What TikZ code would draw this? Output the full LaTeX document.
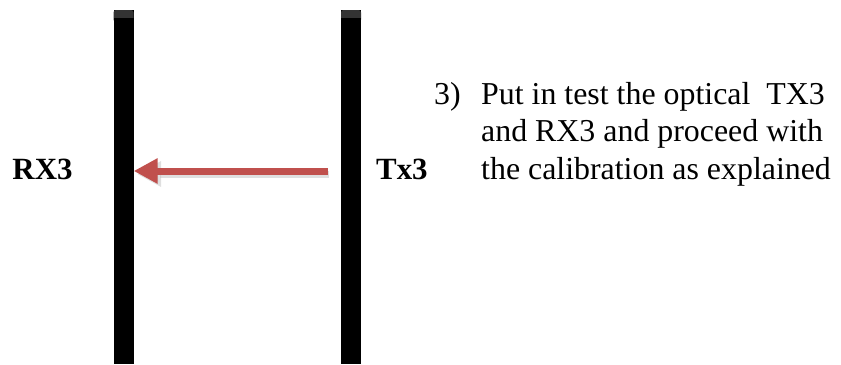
\documentclass[tikz,border=0pt]{standalone}
\usepackage{fontspec}
\setmainfont{Liberation Serif}
\usetikzlibrary{arrows.meta}
\definecolor{arrowred}{HTML}{C0504D}
\tikzset{
  pole/.style={fill=black, draw=none, minimum width=20bp, minimum height=354bp, inner sep=0pt, anchor=north},
  polecap/.style={fill=black!80, draw=none, rounded corners=2.5bp},
  lbl/.style={font=\fontsize{31}{37}\selectfont\bfseries, inner sep=0pt},
  txt/.style={font=\fontsize{32}{37}\selectfont, inner sep=0pt, anchor=base west},
  beam/.style={draw=arrowred, line width=7bp, -{Triangle[length=24bp,width=24bp]}, arrowred}
}
\begin{document}
\begin{tikzpicture}[x=1bp,y=-1bp]
\useasboundingbox (0,0) rectangle (841,364);
% poles
\node[pole] (leftpole) at (123.5,10) {};
\node[pole] (rightpole) at (351,10) {};
\fill[polecap] (113.5,10) rectangle (133.5,22);
\fill[black] (113.5,18) rectangle (133.5,24);
\fill[polecap] (341,10) rectangle (361,22);
\fill[black] (341,18) rectangle (361,24);
% arrow
\coordinate (src) at (328,171);
\draw[line width=7bp, black!25, opacity=0.5, -{Triangle[length=24bp,width=24bp]}] (329,174) -- (137,174);
\draw[beam] (src) -- (leftpole.east |- src);
% labels
\node[lbl, anchor=base] (rx) at (42.5,179) {RX3};
\node[lbl, anchor=base west] (tx) at (376,179) {Tx3};
\node[txt] (num) at (434,104) {3)};
\node[txt] (l1) at (481,104) {Put in test the optical\ \ TX3};
\node[txt] (l2) at (481,141.5) {and RX3 and proceed with};
\node[txt] (l3) at (481,179) {the calibration as explained};
\end{tikzpicture}
\end{document}
